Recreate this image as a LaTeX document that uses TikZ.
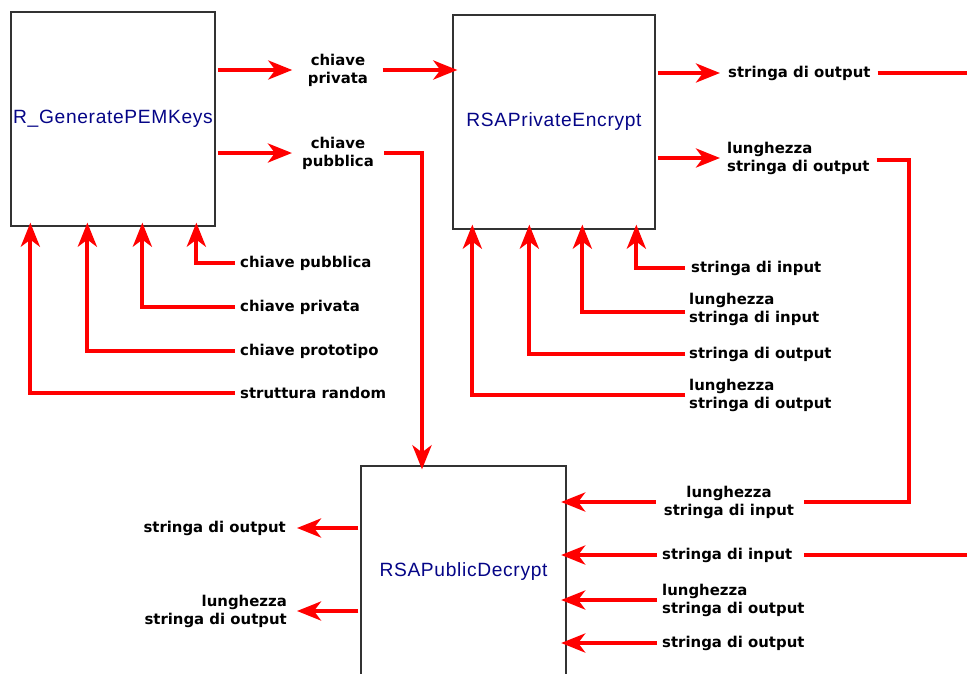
\documentclass[tikz,border=0pt]{standalone}
\usepackage{fontspec}
\setmainfont{DejaVu Sans}
\newfontfamily\boxfont{Liberation Sans}[LetterSpace=3.5]
\usetikzlibrary{arrows.meta}
\definecolor{navyt}{RGB}{5,5,135}
\definecolor{boxline}{RGB}{50,50,50}
\begin{document}
\begin{tikzpicture}[x=1pt,y=-1pt,
 box/.style={draw=boxline,line width=1.3pt,fill=white,inner sep=0pt,text=navyt,font=\boxfont\fontsize{19.2}{22}\selectfont},
 lbl/.style={inner sep=0pt,font=\bfseries\fontsize{14.9}{18}\selectfont},
 arr/.style={draw=red,line width=4pt,line join=miter,-{Stealth[length=24pt,width=19pt,inset=7pt]}},
 wire/.style={draw=red,line width=4pt,line join=miter}]
\clip (0,0) rectangle (967,673);
\fill[white] (0,0) rectangle (967,673);
% boxes
\node[box,minimum width=204pt,minimum height=214pt] (gen) at (113,119) {R\_GeneratePEMKeys};
\node[box,minimum width=202pt,minimum height=214pt] (enc) at (554,122) {RSAPrivateEncrypt};
\node[box,minimum width=205pt,minimum height=212pt] (dec) at (463.5,572) {RSAPublicDecrypt};
% labels
\node[lbl,align=center] (kpriv) at (338,70) {chiave\\privata};
\node[lbl,align=center] (kpub) at (338,153) {chiave\\pubblica};
\node[lbl,anchor=west] (so1) at (728,73) {stringa di output};
\node[lbl,anchor=west,align=left] (lso1) at (727,158) {lunghezza\\stringa di output};
\node[lbl,align=center] (lsi3) at (729,502) {lunghezza\\stringa di input};
\node[lbl,anchor=west] (si3) at (662,555) {stringa di input};
\node[lbl,anchor=west,align=left] (lso3) at (662,600) {lunghezza\\stringa di output};
\node[lbl,anchor=west] (so3) at (662,643) {stringa di output};
\node[lbl,anchor=east] (so4) at (286,528) {stringa di output};
\node[lbl,anchor=east,align=right] (lso4) at (287,611) {lunghezza\\stringa di output};
\node[lbl,anchor=west] (kp1) at (240,263) {chiave pubblica};
\node[lbl,anchor=west] (kp2) at (240,307) {chiave privata};
\node[lbl,anchor=west] (kp3) at (240,351) {chiave prototipo};
\node[lbl,anchor=west] (kp4) at (240,393) {struttura random};
\node[lbl,anchor=west] (b1) at (691,268) {stringa di input};
\node[lbl,anchor=west,align=left] (b2) at (689,309) {lunghezza\\stringa di input};
\node[lbl,anchor=west] (b3) at (689,354) {stringa di output};
\node[lbl,anchor=west,align=left] (b4) at (689,395) {lunghezza\\stringa di output};
\coordinate (e1) at (967,73);
\coordinate (e2) at (967,555);
\coordinate (jx) at (909,0);
% top connectors
\draw[arr,shorten <=2pt] (gen.east |- kpriv) -- ([xshift=-15.5pt]kpriv.west);
\draw[arr,shorten <=14.5pt,shorten >=-5pt] (kpriv.east) -- (enc.west |- kpriv);
\draw[arr,shorten <=2pt] (gen.east |- kpub) -- ([xshift=-10pt]kpub.west);
\draw[arr,shorten >=-4pt] ([xshift=10pt]kpub.east) -| ([xshift=-41.5pt]dec.north);
% enc outputs
\draw[arr,shorten <=2pt] (enc.east |- so1) -- ([xshift=-8pt]so1.west);
\draw[wire] ([xshift=7pt]so1.east) -- (e1);
\draw[arr,shorten <=2pt] (enc.east |- lso1) -- ([xshift=-7pt]lso1.west);
\draw[wire] ([xshift=7pt,yshift=-2pt]lso1.east) -| (jx |- lsi3) -- ([xshift=10pt]lsi3.east);
% dec inputs
\draw[arr,shorten <=8pt,shorten >=-5.5pt] (lsi3.west) -- (dec.east |- lsi3);
\draw[arr,shorten <=5pt,shorten >=-5.5pt] (si3.west) -- (dec.east |- si3);
\draw[wire] ([xshift=12pt]si3.east) -- (e2);
\draw[arr,shorten <=5pt,shorten >=-5.5pt] (lso3.west) -- (dec.east |- lso3);
\draw[arr,shorten <=5pt,shorten >=-5.5pt] (so3.west) -- (dec.east |- so3);
% dec outputs
\draw[arr,shorten <=2pt] (dec.west |- so4) -- ([xshift=11pt]so4.east);
\draw[arr,shorten <=2pt] (dec.west |- lso4) -- ([xshift=10pt]lso4.east);
% gen inputs
\draw[arr,shorten <=5pt,shorten >=-4pt] (kp1.west) -| ([xshift=186pt]gen.south west);
\draw[arr,shorten <=5pt,shorten >=-4pt] (kp2.west) -| ([xshift=132pt]gen.south west);
\draw[arr,shorten <=5pt,shorten >=-4pt] (kp3.west) -| ([xshift=77pt]gen.south west);
\draw[arr,shorten <=5pt,shorten >=-4pt] (kp4.west) -| ([xshift=20pt]gen.south west);
% enc inputs
\draw[arr,shorten <=6pt,shorten >=-5pt] (b1.west) -| ([xshift=184pt]enc.south west);
\draw[arr,shorten <=4pt,shorten >=-5pt] ([yshift=-3pt]b2.west) -| ([xshift=130pt]enc.south west);
\draw[arr,shorten <=4pt,shorten >=-5pt] (b3.west) -| ([xshift=77pt]enc.south west);
\draw[arr,shorten <=4pt,shorten >=-5pt] (b4.west) -| ([xshift=20pt]enc.south west);
\end{tikzpicture}
\end{document}
